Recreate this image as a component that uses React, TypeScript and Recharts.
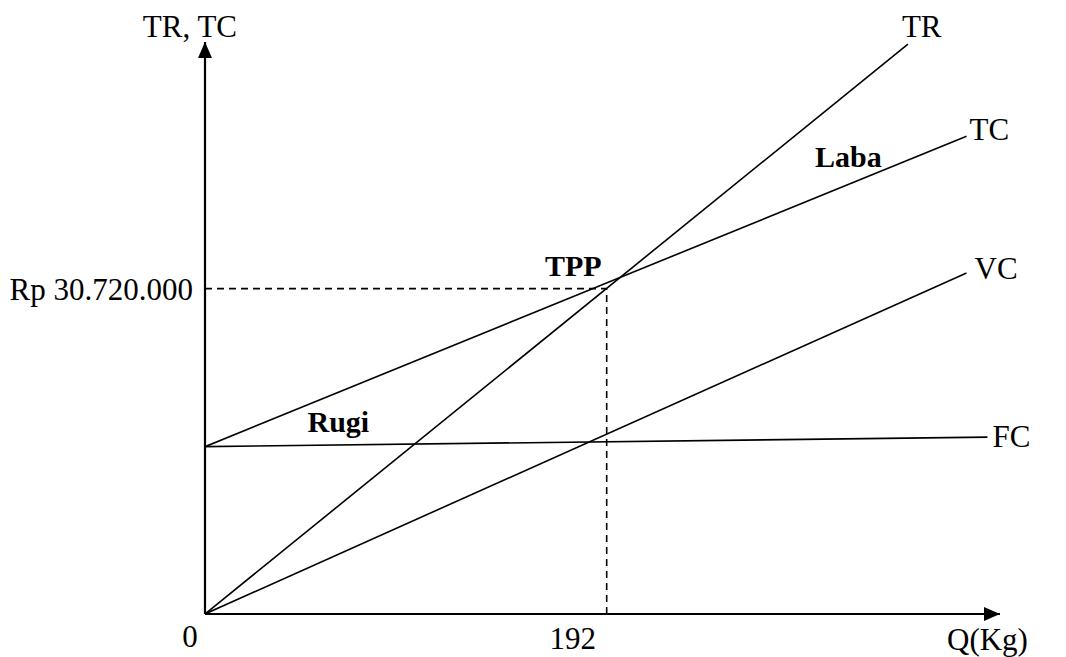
import { LineChart, Line, XAxis, YAxis, ReferenceLine, ReferenceDot } from 'recharts'

// quantity (kg) and rupiah values
const qMax = 380
const rpMax = 54000000
const bepQ = 192
const bepRp = 30720000

const trQ = [0, 336]
const trRp = [0, 53800000]
const tcQ = [0, 364]
const tcRp = [15800000, 45100000]
const vcQ = [0, 364]
const vcRp = [0, 32200000]
const fcQ = [0, 374]
const fcRp = [15800000, 16700000]

const xTicks = [0, 192]
const yTicks = [bepRp]

const toPoints = (q: number[], rp: number[]) => q.map((x, i) => ({ q: x, rp: rp[i] }))

const trData = toPoints(trQ, trRp)
const tcData = toPoints(tcQ, tcRp)
const vcData = toPoints(vcQ, vcRp)
const fcData = toPoints(fcQ, fcRp)

const FONT = '"Liberation Serif", "Times New Roman", serif'
const SIZE = 31

const fmtRp = (v: number) => 'Rp ' + String(v).replace(/\B(?=(\d{3})+(?!\d))/g, '.')

// text drawn relative to a data point
const note = (label: string, dx: number, dy: number, bold = false, anchor = 'start') => (p: any) => (
  <text
    x={p.cx + dx}
    y={p.cy + dy}
    textAnchor={anchor}
    fontFamily={FONT}
    fontSize={bold ? 30 : SIZE}
    fontWeight={bold ? 'bold' : 'normal'}
    fill="#000"
  >
    {label}
  </text>
)

const arrowUp = (p: any) => (
  <path d={`M${p.cx},${p.cy} L${p.cx - 7},${p.cy + 16} L${p.cx + 7},${p.cy + 16} Z`} fill="#000" />
)

const arrowRight = (p: any) => (
  <path d={`M${p.cx},${p.cy} L${p.cx - 16},${p.cy - 7} L${p.cx - 16},${p.cy + 7} Z`} fill="#000" />
)

const tickShift: Record<number, [number, number]> = { 0: [-15, 33], 192: [-34, 35] }

const XTick = (p: any) => {
  const [dx, dy] = tickShift[p.payload.value] || [0, 34]
  return (
    <text x={p.x + dx} y={p.y + dy} textAnchor="middle" fontFamily={FONT} fontSize={SIZE} fill="#000">
      {p.payload.value}
    </text>
  )
}

const App = () => {
  return (
    <div style={{ position: 'absolute', left: 0, top: 0, width: 1066, height: 657, background: '#fff' }}>
      <LineChart width={1066} height={657} margin={{ top: 42, right: 66, bottom: 0, left: 0 }}>
        <XAxis
          type="number"
          dataKey="q"
          domain={[0, qMax]}
          ticks={xTicks}
          tick={<XTick />}
          tickLine={false}
          tickSize={0}
          tickMargin={0}
          height={43}
          axisLine={{ stroke: '#000', strokeWidth: 2.2 }}
          allowDataOverflow
        />
        <YAxis
          type="number"
          dataKey="rp"
          domain={[0, rpMax]}
          ticks={yTicks}
          tickFormatter={fmtRp}
          tickLine={false}
          tickSize={0}
          tickMargin={12}
          width={205}
          tick={{ fontFamily: FONT, fontSize: SIZE, fill: '#000' }}
          axisLine={{ stroke: '#000', strokeWidth: 2.2 }}
          allowDataOverflow
        />
        <ReferenceLine
          segment={[{ x: 0, y: bepRp }, { x: bepQ, y: bepRp }]}
          stroke="#000"
          strokeWidth={1.6}
          strokeDasharray="7 5"
        />
        <ReferenceLine
          segment={[{ x: bepQ, y: 0 }, { x: bepQ, y: bepRp }]}
          stroke="#000"
          strokeWidth={1.6}
          strokeDasharray="7 5"
        />
        <Line data={trData} dataKey="rp" type="linear" stroke="#000" strokeWidth={1.6} dot={false} isAnimationActive={false} />
        <Line data={tcData} dataKey="rp" type="linear" stroke="#000" strokeWidth={1.6} dot={false} isAnimationActive={false} />
        <Line data={vcData} dataKey="rp" type="linear" stroke="#000" strokeWidth={1.6} dot={false} isAnimationActive={false} />
        <Line data={fcData} dataKey="rp" type="linear" stroke="#000" strokeWidth={1.6} dot={false} isAnimationActive={false} />

        <ReferenceDot x={0} y={rpMax} r={0} ifOverflow="visible" shape={arrowUp} />
        <ReferenceDot x={qMax} y={0} r={0} ifOverflow="visible" shape={arrowRight} />

        <ReferenceDot x={0} y={rpMax} r={0} ifOverflow="visible" shape={note('TR, TC', 32, -5, false, 'end')} />
        <ReferenceDot x={qMax} y={0} r={0} ifOverflow="visible" shape={note('Q(Kg)', -53, 36)} />

        <ReferenceDot x={trQ[1]} y={trRp[1]} r={0} ifOverflow="visible" shape={note('TR', -6, -7)} />
        <ReferenceDot x={tcQ[1]} y={tcRp[1]} r={0} ifOverflow="visible" shape={note('TC', 3, 4)} />
        <ReferenceDot x={vcQ[1]} y={vcRp[1]} r={0} ifOverflow="visible" shape={note('VC', 8, 6)} />
        <ReferenceDot x={fcQ[1]} y={fcRp[1]} r={0} ifOverflow="visible" shape={note('FC', 5, 10)} />

        <ReferenceDot x={49} y={17180000} r={0} ifOverflow="visible" shape={note('Rugi', 0, 0, true)} />
        <ReferenceDot x={162.5} y={31900000} r={0} ifOverflow="visible" shape={note('TPP', 0, 0, true)} />
        <ReferenceDot x={291.6} y={42200000} r={0} ifOverflow="visible" shape={note('Laba', 0, 0, true)} />
      </LineChart>
    </div>
  )
}

export default App
